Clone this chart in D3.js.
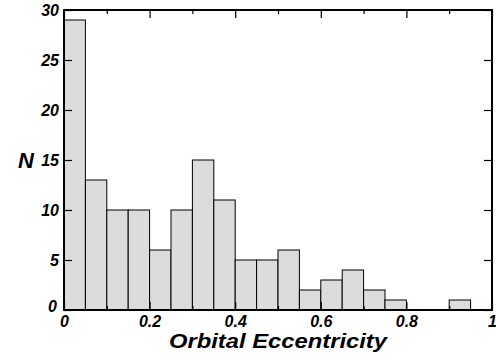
<!DOCTYPE html>
<html>
<head>
<meta charset="utf-8">
<script src="https://cdn.jsdelivr.net/npm/d3@7"></script>
<style>
  body { margin: 0; background: #fff; }
</style>
</head>
<body>
<svg id="hist"></svg>
<script>
// bin edges (left edge of each 0.05-wide bin) and counts
const binStarts = [0, 0.05, 0.1, 0.15, 0.2, 0.25, 0.3, 0.35, 0.4, 0.45,
                   0.5, 0.55, 0.6, 0.65, 0.7, 0.75, 0.8, 0.85, 0.9, 0.95];
const counts = [29, 13, 10, 10, 6, 10, 15, 11, 5, 5,
                6, 2, 3, 4, 2, 1, 0, 0, 1, 0];
const binWidth = 0.05;
const xTicks = [0, 0.2, 0.4, 0.6, 0.8, 1];
const xMinor = [0.1, 0.3, 0.5, 0.7, 0.9];
const yTicks = [0, 5, 10, 15, 20, 25, 30];

// set the dimensions and margins of the graph
let margin = {top: 10, right: 4, bottom: 50, left: 64},
    width = 496 - margin.left - margin.right,
    height = 360 - margin.top - margin.bottom;

let x = d3.scaleLinear().domain([0, 1]).range([0, width]);
let y = d3.scaleLinear().domain([0, 30]).range([height, 0]);

let svg = d3.select("#hist")
    .attr("width", 496)
    .attr("height", 360)
    .append("g")
    .attr("transform", "translate(" + margin.left + "," + margin.top + ")");

// bars
let bins = binStarts.map((s, i) => ({x0: s, x1: s + binWidth, n: counts[i]}));
svg.selectAll("rect.bar")
    .data(bins.filter(d => d.n > 0))
    .enter()
    .append("rect")
    .attr("class", "bar")
    .attr("x", d => x(d.x0))
    .attr("width", d => x(d.x1) - x(d.x0))
    .attr("y", d => y(d.n))
    .attr("height", d => height - y(d.n))
    .attr("fill", "#dcdcdc")
    .attr("stroke", "#000")
    .attr("stroke-width", 1);

// axes with inward ticks on all four sides
function styleAxis(g) {
    g.select(".domain").remove();
    g.selectAll("line").attr("stroke", "#000").attr("stroke-width", 1.2);
    g.selectAll("text")
        .attr("fill", "#000")
        .style("font-family", "'Liberation Sans', Arial, sans-serif")
        .style("font-weight", "bold")
        .style("font-style", "italic")
        .style("font-size", "16px");
}

svg.append("g")
    .attr("transform", "translate(0," + height + ")")
    .call(d3.axisBottom(x).tickValues(xTicks).tickSize(-8).tickPadding(6)
        .tickFormat(d => d === 0 ? "0" : d === 1 ? "1" : d3.format(".1f")(d)))
    .call(styleAxis);

svg.append("g")
    .attr("transform", "translate(0," + height + ")")
    .call(d3.axisBottom(x).tickValues(xMinor).tickSize(-4).tickFormat(""))
    .call(styleAxis);

svg.append("g")
    .call(d3.axisTop(x).tickValues(xTicks).tickSize(-8).tickFormat(""))
    .call(styleAxis);

svg.append("g")
    .call(d3.axisTop(x).tickValues(xMinor).tickSize(-4).tickFormat(""))
    .call(styleAxis);

let leftAxis = svg.append("g")
    .call(d3.axisLeft(y).tickValues(yTicks).tickSize(-8).tickPadding(5))
    .call(styleAxis);

// the y "0" sits a little up and left of the corner
leftAxis.selectAll(".tick text").filter(d => d === 0).attr("dy", "0.1em").attr("x", -7);

svg.append("g")
    .attr("transform", "translate(" + width + ",0)")
    .call(d3.axisRight(y).tickValues(yTicks).tickSize(-8).tickFormat(""))
    .call(styleAxis);

// frame
svg.append("rect")
    .attr("x", 0).attr("y", 0)
    .attr("width", width).attr("height", height)
    .attr("fill", "none")
    .attr("stroke", "#000")
    .attr("stroke-width", 2);

// axis titles
svg.append("text")
    .attr("x", width / 2)
    .attr("y", height + 38)
    .attr("text-anchor", "middle")
    .attr("textLength", 218)
    .attr("lengthAdjust", "spacingAndGlyphs")
    .style("font-family", "'Liberation Sans', Arial, sans-serif")
    .style("font-weight", "bold")
    .style("font-style", "italic")
    .style("font-size", "21px")
    .text("Orbital Eccentricity");

svg.append("text")
    .attr("x", -38)
    .attr("y", y(15))
    .attr("dy", "0.35em")
    .attr("text-anchor", "middle")
    .style("font-family", "'Liberation Sans', Arial, sans-serif")
    .style("font-weight", "bold")
    .style("font-style", "italic")
    .style("font-size", "22px")
    .text("N");
</script>
</body>
</html>
